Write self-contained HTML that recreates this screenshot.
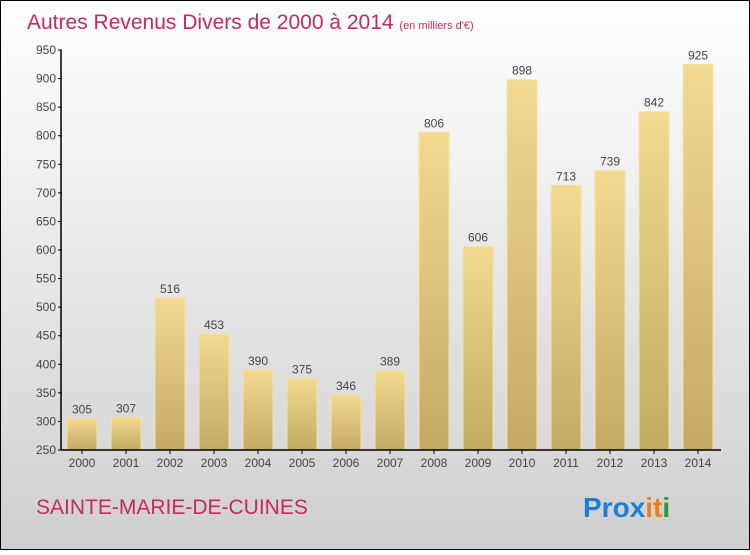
<!DOCTYPE html>
<html><head><meta charset="utf-8"><style>
body{margin:0}
#c{width:750px;height:550px;position:relative;font-family:"Liberation Sans",sans-serif}
</style></head><body>
<div id="c">
<svg width="750" height="550" id="svg">
<defs>
<linearGradient id="bg" x1="0" y1="0" x2="0" y2="1"><stop offset="0" stop-color="#ffffff"/><stop offset="1" stop-color="#cfcfcf"/></linearGradient>
<linearGradient id="bar" x1="0" y1="0" x2="0" y2="1"><stop offset="0" stop-color="#f3da90"/><stop offset="1" stop-color="#c4a962"/></linearGradient>
</defs>
<rect x="0.5" y="0.5" width="749" height="549" fill="url(#bg)" stroke="#000"/>
<text x="27" y="29" font-size="21" fill="#c8285a">Autres Revenus Divers de 2000 à 2014 <tspan font-size="11">(en milliers d'€)</tspan></text>
<g id="plot"></g>
<text x="36" y="514" font-size="21" fill="#c8285a">SAINTE-MARIE-DE-CUINES</text>
<text x="583" y="517" font-size="28" font-weight="bold"><tspan fill="#1a7fd8">Pro</tspan><tspan fill="#1a7fd8">x</tspan><tspan fill="#f07d10">i</tspan><tspan fill="#f07d10">t</tspan><tspan fill="#2a9a3a">i</tspan></text>
</svg>
</div>
<script>
const categories=["2000","2001","2002","2003","2004","2005","2006","2007","2008","2009","2010","2011","2012","2013","2014"];
const values=[305,307,516,453,390,375,346,389,806,606,898,713,739,842,925];
const yTicks=[250,300,350,400,450,500,550,600,650,700,750,800,850,900,950];
const NS="http://www.w3.org/2000/svg";
const g=document.getElementById('plot');
const y0=450,y1=50,vmin=250,vmax=950;
const y=v=>y0-(v-vmin)/(vmax-vmin)*(y0-y1);
const x=i=>67+i*44;
function mk(t,a){const e=document.createElementNS(NS,t);for(const k in a)e.setAttribute(k,a[k]);g.appendChild(e);return e;}
values.forEach((v,i)=>{
 const r=mk('rect',{x:x(i),y:y(v),width:30,height:y0-y(v),fill:'url(#bar)',stroke:'#f5e3a5','stroke-width':1});
 
 
 const t=mk('text',{x:x(i)+15,y:y(v)-5,'text-anchor':'middle','font-size':12,fill:'#444'});
 t.textContent=v;
 
 
 const c=mk('text',{x:x(i)+15,y:467,'text-anchor':'middle','font-size':12,fill:'#444'});
 c.textContent=categories[i];
 
 
 const tk=mk('line',{x1:x(i)+15,x2:x(i)+15,y1:450,y2:454,stroke:'#000'});
 
 
});
yTicks.forEach(v=>{
 const l=mk('line',{x1:58,x2:62,y1:y(v),y2:y(v),stroke:'#000'});
 
 
 const t=mk('text',{x:56,y:y(v)+4,'text-anchor':'end','font-size':12,fill:'#444'});
 t.textContent=v;
 
 
});
const ya=mk('line',{x1:61,x2:61,y1:50,y2:450,stroke:'#000','stroke-width':1.5});


const xa=mk('line',{x1:61,x2:721,y1:450,y2:450,stroke:'#000','stroke-width':1.5});


</script>
</body></html>
